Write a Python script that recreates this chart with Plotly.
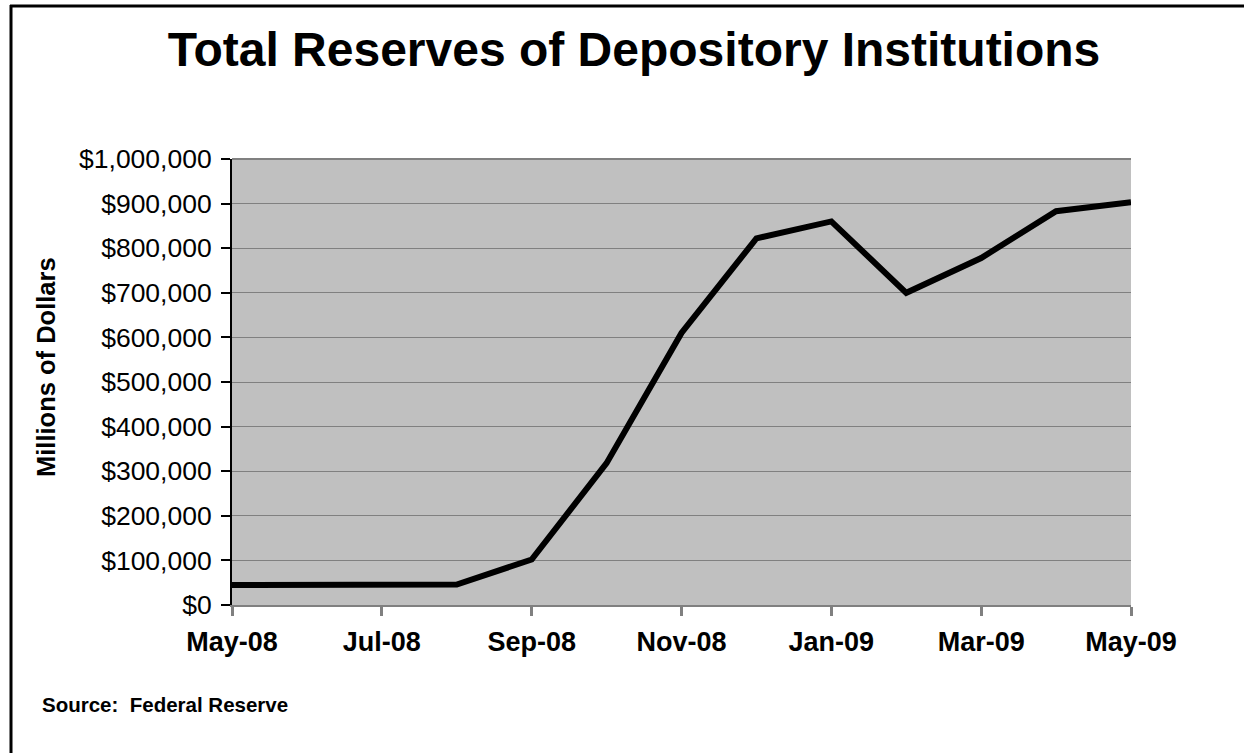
import plotly.graph_objects as go

# Monthly total reserves of depository institutions (millions of dollars)
months = ["May-08", "Jun-08", "Jul-08", "Aug-08", "Sep-08", "Oct-08", "Nov-08",
          "Dec-08", "Jan-09", "Feb-09", "Mar-09", "Apr-09", "May-09"]
reserves = [45000, 45000, 45000, 46000, 102000, 318000, 610000,
            822000, 860000, 700000, 778000, 883000, 903000]

label_months = months[::2]
y_ticks = list(range(0, 1000001, 100000))
y_tick_text = ["$" + format(v, ",") for v in y_ticks]

FONT = "Liberation Sans, Arial, sans-serif"
W, H = 1244, 753
L, R, T, B = 232, 113, 159, 148


def px_x(px):
    return (px - L) / (W - L - R)


def px_y(py):
    return 1 - (py - T) / (H - T - B)


fig = go.Figure()
fig.add_trace(go.Scatter(
    x=months, y=reserves, mode="lines",
    line=dict(color="black", width=6),
    hoverinfo="skip", showlegend=False,
))

fig.update_layout(
    width=W, height=H,
    margin=dict(l=L, r=R, t=T, b=B),
    paper_bgcolor="white",
    plot_bgcolor="#C0C0C0",
    font=dict(family=FONT, color="black"),
    title=dict(
        text="<b>Total Reserves of Depository Institutions</b>",
        font=dict(size=48, family=FONT, color="black"),
        x=634 / W, xref="container", xanchor="center",
        y=1 - 49 / H, yref="container", yanchor="middle",
    ),
    xaxis=dict(
        type="category", range=[0, 12],
        tickvals=label_months, ticktext=[f"<b>{m}</b>" for m in label_months],
        tickfont=dict(size=27, family=FONT),
        ticks="outside", ticklen=9, tickwidth=3, tickcolor="#808080",
        showline=True, linecolor="#808080", linewidth=2,
        showgrid=False, zeroline=False,
        ticklabelstandoff=3,
    ),
    yaxis=dict(
        range=[0, 1000000],
        tickvals=y_ticks, ticktext=y_tick_text,
        tickfont=dict(size=26.5, family=FONT),
        ticks="outside", ticklen=9, tickwidth=2, tickcolor="black",
        showline=True, linecolor="black", linewidth=2,
        showgrid=True, gridcolor="#808080", gridwidth=1,
        zeroline=False,
        ticklabelstandoff=4,
    ),
)

# Top border of plotting area
fig.add_shape(type="line", xref="paper", yref="paper",
              x0=0, x1=1, y0=1, y1=1,
              line=dict(color="#808080", width=2))

# Outer frame (left and top edges)
fig.add_shape(type="line", xref="paper", yref="paper",
              x0=px_x(11), x1=px_x(11), y0=px_y(5), y1=px_y(H + 5),
              line=dict(color="black", width=3))
fig.add_shape(type="line", xref="paper", yref="paper",
              x0=px_x(10), x1=px_x(W + 5), y0=px_y(6), y1=px_y(6),
              line=dict(color="black", width=3))

# Vertical axis title
fig.add_annotation(
    text="<b>Millions of Dollars</b>",
    xref="paper", yref="paper", x=px_x(46), y=px_y(367),
    xanchor="center", yanchor="middle", textangle=-90, showarrow=False,
    font=dict(size=25.5, family=FONT, color="black"),
)

fig.add_annotation(
    text="<b>Source:  Federal Reserve</b>",
    xref="paper", yref="paper", x=px_x(40), y=px_y(704),
    xanchor="left", yanchor="middle", showarrow=False,
    font=dict(size=20.5, family=FONT, color="black"),
)

fig.write_html("out.html")
